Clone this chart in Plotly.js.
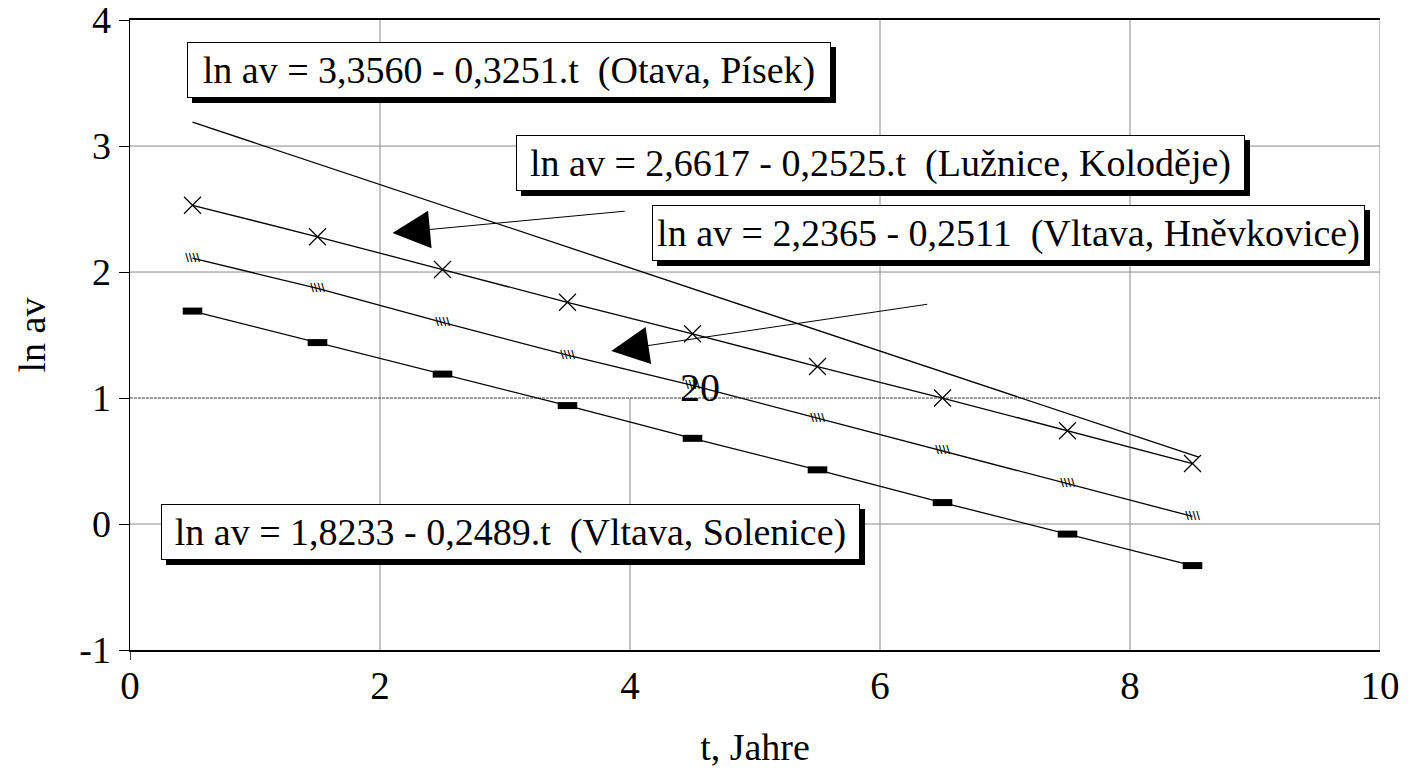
<!DOCTYPE html>
<html><head><meta charset="utf-8">
<script src="https://cdn.plot.ly/plotly-3.0.1.min.js"></script>
<style>html,body{margin:0;padding:0;background:#fff;} #chart{width:1415px;height:772px;}</style>
</head><body><div id="chart"></div>
<script>
// ---- data ----
const tYears = [0.5, 1.5, 2.5, 3.5, 4.5, 5.5, 6.5, 7.5, 8.5];
const otavaT = [0.5, 8.55];
const otavaLn = [3.19, 0.53];
const luzniceLn = [2.53, 2.28, 2.02, 1.76, 1.51, 1.25, 1.00, 0.74, 0.48];
const hnevkoviceLn = [2.11, 1.87, 1.60, 1.34, 1.10, 0.84, 0.58, 0.32, 0.06];
const soleniceLn = [1.69, 1.44, 1.19, 0.94, 0.68, 0.43, 0.17, -0.08, -0.33];
const xTickVals = [0, 2, 4, 6, 8, 10];
const yTickVals = [-1, 0, 1, 2, 3, 4];
const yTickText = ['-1', '0', '1', '2', '3', '4'];
const eqTexts = [
  'ln av = 3,3560 - 0,3251.t \u00a0(Otava, Písek)',
  'ln av = 2,6617 - 0,2525.t \u00a0(Lužnice, Koloděje)',
  'ln av = 2,2365 - 0,2511 \u00a0(Vltava, Hněvkovice)',
  'ln av = 1,8233 - 0,2489.t \u00a0(Vltava, Solenice)'
];
const eqX = [3.03, 6.0, 7.03, 3.04];
const eqY = [3.60, 2.865, 2.31, -0.063];
const eqBoxW = [642, 727, 711, 697];
const arrowTipX = [2.10, 3.85];
const arrowTipY = [2.31, 1.373];
const arrowTailX = [3.97, 6.39];
const arrowTailY = [2.484, 1.746];
const strayLabel = '20';
const strayX = 4.56, strayY = 1.08;

const FONT = '"Liberation Serif", "Times New Roman", serif';

const traces = [
  {x: otavaT, y: otavaLn, mode: 'lines', line: {color: '#000', width: 1.3}},
  {x: tYears, y: luzniceLn, mode: 'lines+markers', line: {color: '#000', width: 1.3},
   marker: {symbol: 'x-thin-open', size: 17, color: '#000', line: {color: '#000', width: 1.2}}},
  {x: tYears, y: hnevkoviceLn, mode: 'lines+text', line: {color: '#000', width: 1.3},
   text: tYears.map(() => '\\\\\\\\'), textposition: 'middle center',
   textfont: {family: 'DejaVu Sans', size: 10, color: '#000', weight: 'bold'}},
  {x: tYears, y: soleniceLn, mode: 'lines+markers', line: {color: '#000', width: 1.3},
   marker: {symbol: 'line-ew', size: 14, color: '#000', line: {color: '#000', width: 7}}}
];

const shapes = [];
[2, 6, 8, 10].forEach(v => shapes.push({type: 'line', xref: 'x', yref: 'y', x0: v, x1: v, y0: -1, y1: 4, layer: 'below', line: {color: '#8a8a8a', width: 1}}));
shapes.push({type: 'line', xref: 'x', yref: 'y', x0: 4, x1: 4, y0: -1, y1: 1, layer: 'below', line: {color: '#8a8a8a', width: 1}});
[0, 2, 3].forEach(v => shapes.push({type: 'line', xref: 'x', yref: 'y', x0: 0, x1: 10, y0: v, y1: v, layer: 'below', line: {color: '#8a8a8a', width: 1}}));
shapes.push({type: 'line', xref: 'x', yref: 'y', x0: 0, x1: 10, y0: 1, y1: 1, layer: 'below', line: {color: '#444', width: 1, dash: '3px,1px'}});
shapes.push({type: 'line', xref: 'x', yref: 'paper', x0: 0, x1: 0, y0: 0, y1: -0.016, line: {color: '#000', width: 1.5}});

const annotations = [];
eqTexts.forEach((t, i) => {
  annotations.push({xref: 'x', yref: 'y', x: eqX[i], y: eqY[i], text: t, showarrow: false,
    width: eqBoxW[i], height: 54, align: 'center',
    xshift: 5, yshift: -5, bgcolor: '#000', bordercolor: '#000', borderwidth: 1, borderpad: 0,
    font: {family: FONT, size: 38, color: '#000'}});
  annotations.push({xref: 'x', yref: 'y', x: eqX[i], y: eqY[i], text: t, showarrow: false,
    width: eqBoxW[i], height: 54, align: 'center',
    bgcolor: '#fff', bordercolor: '#000', borderwidth: 1, borderpad: 0,
    font: {family: FONT, size: 38, color: '#000'}});
});
arrowTipX.forEach((v, i) => {
  annotations.push({xref: 'x', yref: 'y', axref: 'x', ayref: 'y', x: v, y: arrowTipY[i],
    ax: arrowTailX[i], ay: arrowTailY[i], text: '', showarrow: true,
    arrowhead: 2, arrowsize: 7.5, arrowwidth: 1, arrowcolor: '#000', standoff: 0});
});
annotations.push({xref: 'x', yref: 'y', x: strayX, y: strayY, text: strayLabel, showarrow: false,
  font: {family: FONT, size: 40, color: '#000'}});

const layout = {
  width: 1415, height: 772,
  margin: {l: 130, r: 35, t: 20, b: 122},
  paper_bgcolor: '#fff', plot_bgcolor: '#fff',
  showlegend: false,
  font: {family: FONT, color: '#000'},
  xaxis: {range: [0, 10], tickvals: xTickVals, showgrid: false, zeroline: false,
    showline: true, linecolor: '#000', linewidth: 2, mirror: true, ticks: '',
    tickfont: {family: FONT, size: 39}, title: {text: 't, Jahre', font: {family: FONT, size: 38}, standoff: 28}},
  yaxis: {range: [-1, 4.0005], tickvals: yTickVals, ticktext: yTickText, ticklabeloverflow: 'allow',
    showgrid: false, zeroline: false,
    showline: true, linecolor: '#000', linewidth: 1.5, ticks: 'outside', ticklen: 10, tickcolor: '#000', tickwidth: 1,
    tickfont: {family: FONT, size: 38}, title: {text: 'ln av', font: {family: FONT, size: 38}, standoff: 22}},
  shapes: shapes,
  annotations: annotations
};
Plotly.newPlot('chart', traces, layout, {staticPlot: true, displayModeBar: false});
</script></body></html>
